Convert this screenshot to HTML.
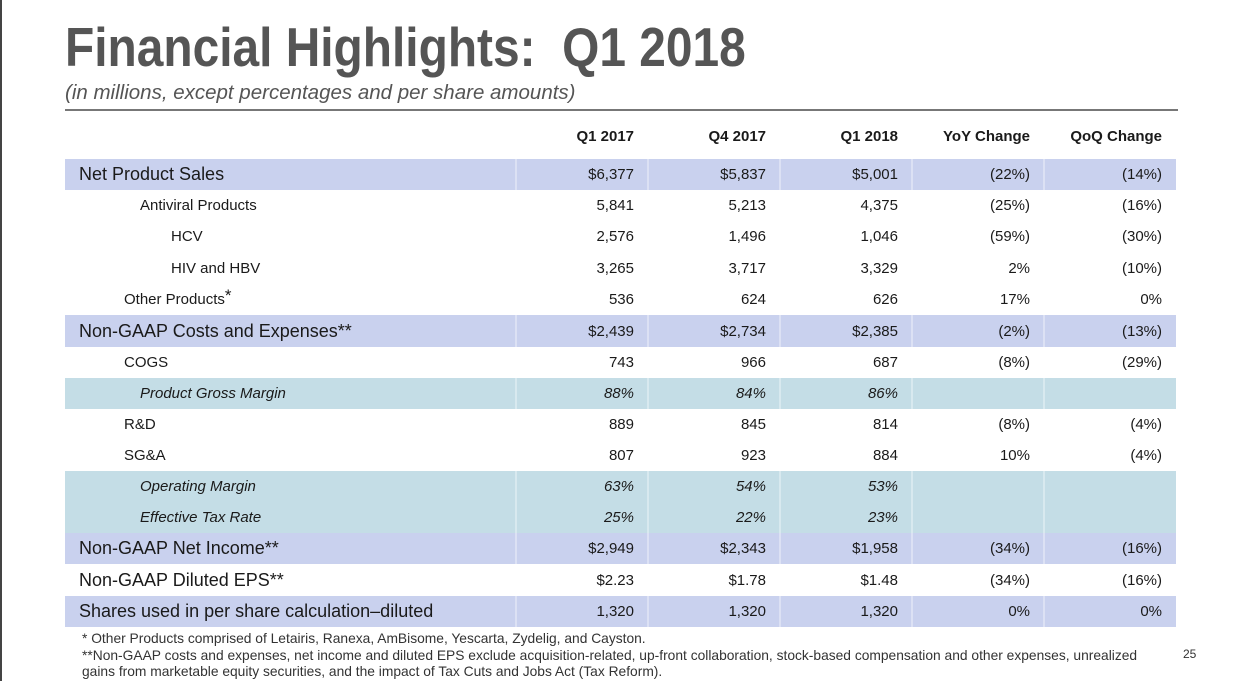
<!DOCTYPE html>
<html><head><meta charset="utf-8"><style>
body{margin:0;width:1233px;height:681px;background:#fff;position:relative;overflow:hidden;font-family:"Liberation Sans",sans-serif;color:#1a1a1a}
.vl{position:absolute;left:0;top:0;width:2px;height:681px;background:#444}
h1{position:absolute;left:65px;top:19px;margin:0;font-size:55px;line-height:56px;font-weight:bold;color:#555;transform:scaleX(0.87);transform-origin:left top;white-space:nowrap}
.sub{position:absolute;left:65px;top:81px;font-size:20.5px;font-style:italic;color:#555;white-space:nowrap}
.rule{position:absolute;left:65px;top:109px;width:1113px;height:2px;background:#777}
.row{position:absolute;left:65px;width:1111px;display:flex}
.row div{box-sizing:border-box;display:flex;align-items:center}
.c0{width:450px}
.c{width:132px;justify-content:flex-end;padding-right:13px;font-size:15px;border-left:2px solid rgba(255,255,255,.35)}
.b{background:#c9d1ee}.t{background:#c4dde6}
.big .c0{font-size:18px;padding-left:14px}
.sm .c0{font-size:15px}
.it{font-style:italic}
.hd div{font-weight:bold;font-size:15px;border:none}
.fn{position:absolute;left:82px;font-size:13.8px;color:#333;line-height:16px}
.pg{position:absolute;left:1183px;top:647px;font-size:12px;color:#333}
</style></head><body>
<div class="vl"></div>
<h1>Financial Highlights:&nbsp; Q1 2018</h1>
<div class="sub">(in millions, except percentages and per share amounts)</div>
<div class="rule"></div>

<div class="row hd" style="top:121px;height:31px"><div class="c0"></div><div class="c">Q1 2017</div><div class="c">Q4 2017</div><div class="c">Q1 2018</div><div class="c">YoY Change</div><div class="c">QoQ Change</div></div>

<div class="row big b" style="top:159px;height:31px"><div class="c0">Net Product Sales</div><div class="c">$6,377</div><div class="c">$5,837</div><div class="c">$5,001</div><div class="c">(22%)</div><div class="c">(14%)</div></div>
<div class="row sm" style="top:190px;height:31px"><div class="c0" style="padding-left:75px">Antiviral Products</div><div class="c">5,841</div><div class="c">5,213</div><div class="c">4,375</div><div class="c">(25%)</div><div class="c">(16%)</div></div>
<div class="row sm" style="top:221px;height:31px"><div class="c0" style="padding-left:106px">HCV</div><div class="c">2,576</div><div class="c">1,496</div><div class="c">1,046</div><div class="c">(59%)</div><div class="c">(30%)</div></div>
<div class="row sm" style="top:252px;height:32px"><div class="c0" style="padding-left:106px">HIV and HBV</div><div class="c">3,265</div><div class="c">3,717</div><div class="c">3,329</div><div class="c">2%</div><div class="c">(10%)</div></div>
<div class="row sm" style="top:284px;height:31px"><div class="c0" style="padding-left:59px">Other Products<span style="font-size:17px;position:relative;top:-4px">*</span></div><div class="c">536</div><div class="c">624</div><div class="c">626</div><div class="c">17%</div><div class="c">0%</div></div>
<div class="row big b" style="top:315px;height:32px"><div class="c0">Non-GAAP Costs and Expenses**</div><div class="c">$2,439</div><div class="c">$2,734</div><div class="c">$2,385</div><div class="c">(2%)</div><div class="c">(13%)</div></div>
<div class="row sm" style="top:347px;height:31px"><div class="c0" style="padding-left:59px">COGS</div><div class="c">743</div><div class="c">966</div><div class="c">687</div><div class="c">(8%)</div><div class="c">(29%)</div></div>
<div class="row sm t it" style="top:378px;height:31px"><div class="c0" style="padding-left:75px">Product Gross Margin</div><div class="c">88%</div><div class="c">84%</div><div class="c">86%</div><div class="c"></div><div class="c"></div></div>
<div class="row sm" style="top:409px;height:31px"><div class="c0" style="padding-left:59px">R&amp;D</div><div class="c">889</div><div class="c">845</div><div class="c">814</div><div class="c">(8%)</div><div class="c">(4%)</div></div>
<div class="row sm" style="top:440px;height:31px"><div class="c0" style="padding-left:59px">SG&amp;A</div><div class="c">807</div><div class="c">923</div><div class="c">884</div><div class="c">10%</div><div class="c">(4%)</div></div>
<div class="row sm t it" style="top:471px;height:31px"><div class="c0" style="padding-left:75px">Operating Margin</div><div class="c">63%</div><div class="c">54%</div><div class="c">53%</div><div class="c"></div><div class="c"></div></div>
<div class="row sm t it" style="top:502px;height:31px"><div class="c0" style="padding-left:75px">Effective Tax Rate</div><div class="c">25%</div><div class="c">22%</div><div class="c">23%</div><div class="c"></div><div class="c"></div></div>
<div class="row big b" style="top:533px;height:31px"><div class="c0">Non-GAAP Net Income**</div><div class="c">$2,949</div><div class="c">$2,343</div><div class="c">$1,958</div><div class="c">(34%)</div><div class="c">(16%)</div></div>
<div class="row big" style="top:564px;height:32px"><div class="c0">Non-GAAP Diluted EPS**</div><div class="c">$2.23</div><div class="c">$1.78</div><div class="c">$1.48</div><div class="c">(34%)</div><div class="c">(16%)</div></div>
<div class="row big b" style="top:596px;height:31px"><div class="c0">Shares used in per share calculation–diluted</div><div class="c">1,320</div><div class="c">1,320</div><div class="c">1,320</div><div class="c">0%</div><div class="c">0%</div></div>

<div class="fn" style="top:631px;white-space:nowrap">* Other Products comprised of Letairis, Ranexa, AmBisome, Yescarta, Zydelig, and Cayston.</div>
<div class="fn" style="top:648px;white-space:nowrap">**Non-GAAP costs and expenses, net income and diluted EPS exclude acquisition-related, up-front collaboration, stock-based compensation and other expenses, unrealized<br>gains from marketable equity securities, and the impact of Tax Cuts and Jobs Act (Tax Reform).</div>
<div class="pg">25</div>
</body></html>
